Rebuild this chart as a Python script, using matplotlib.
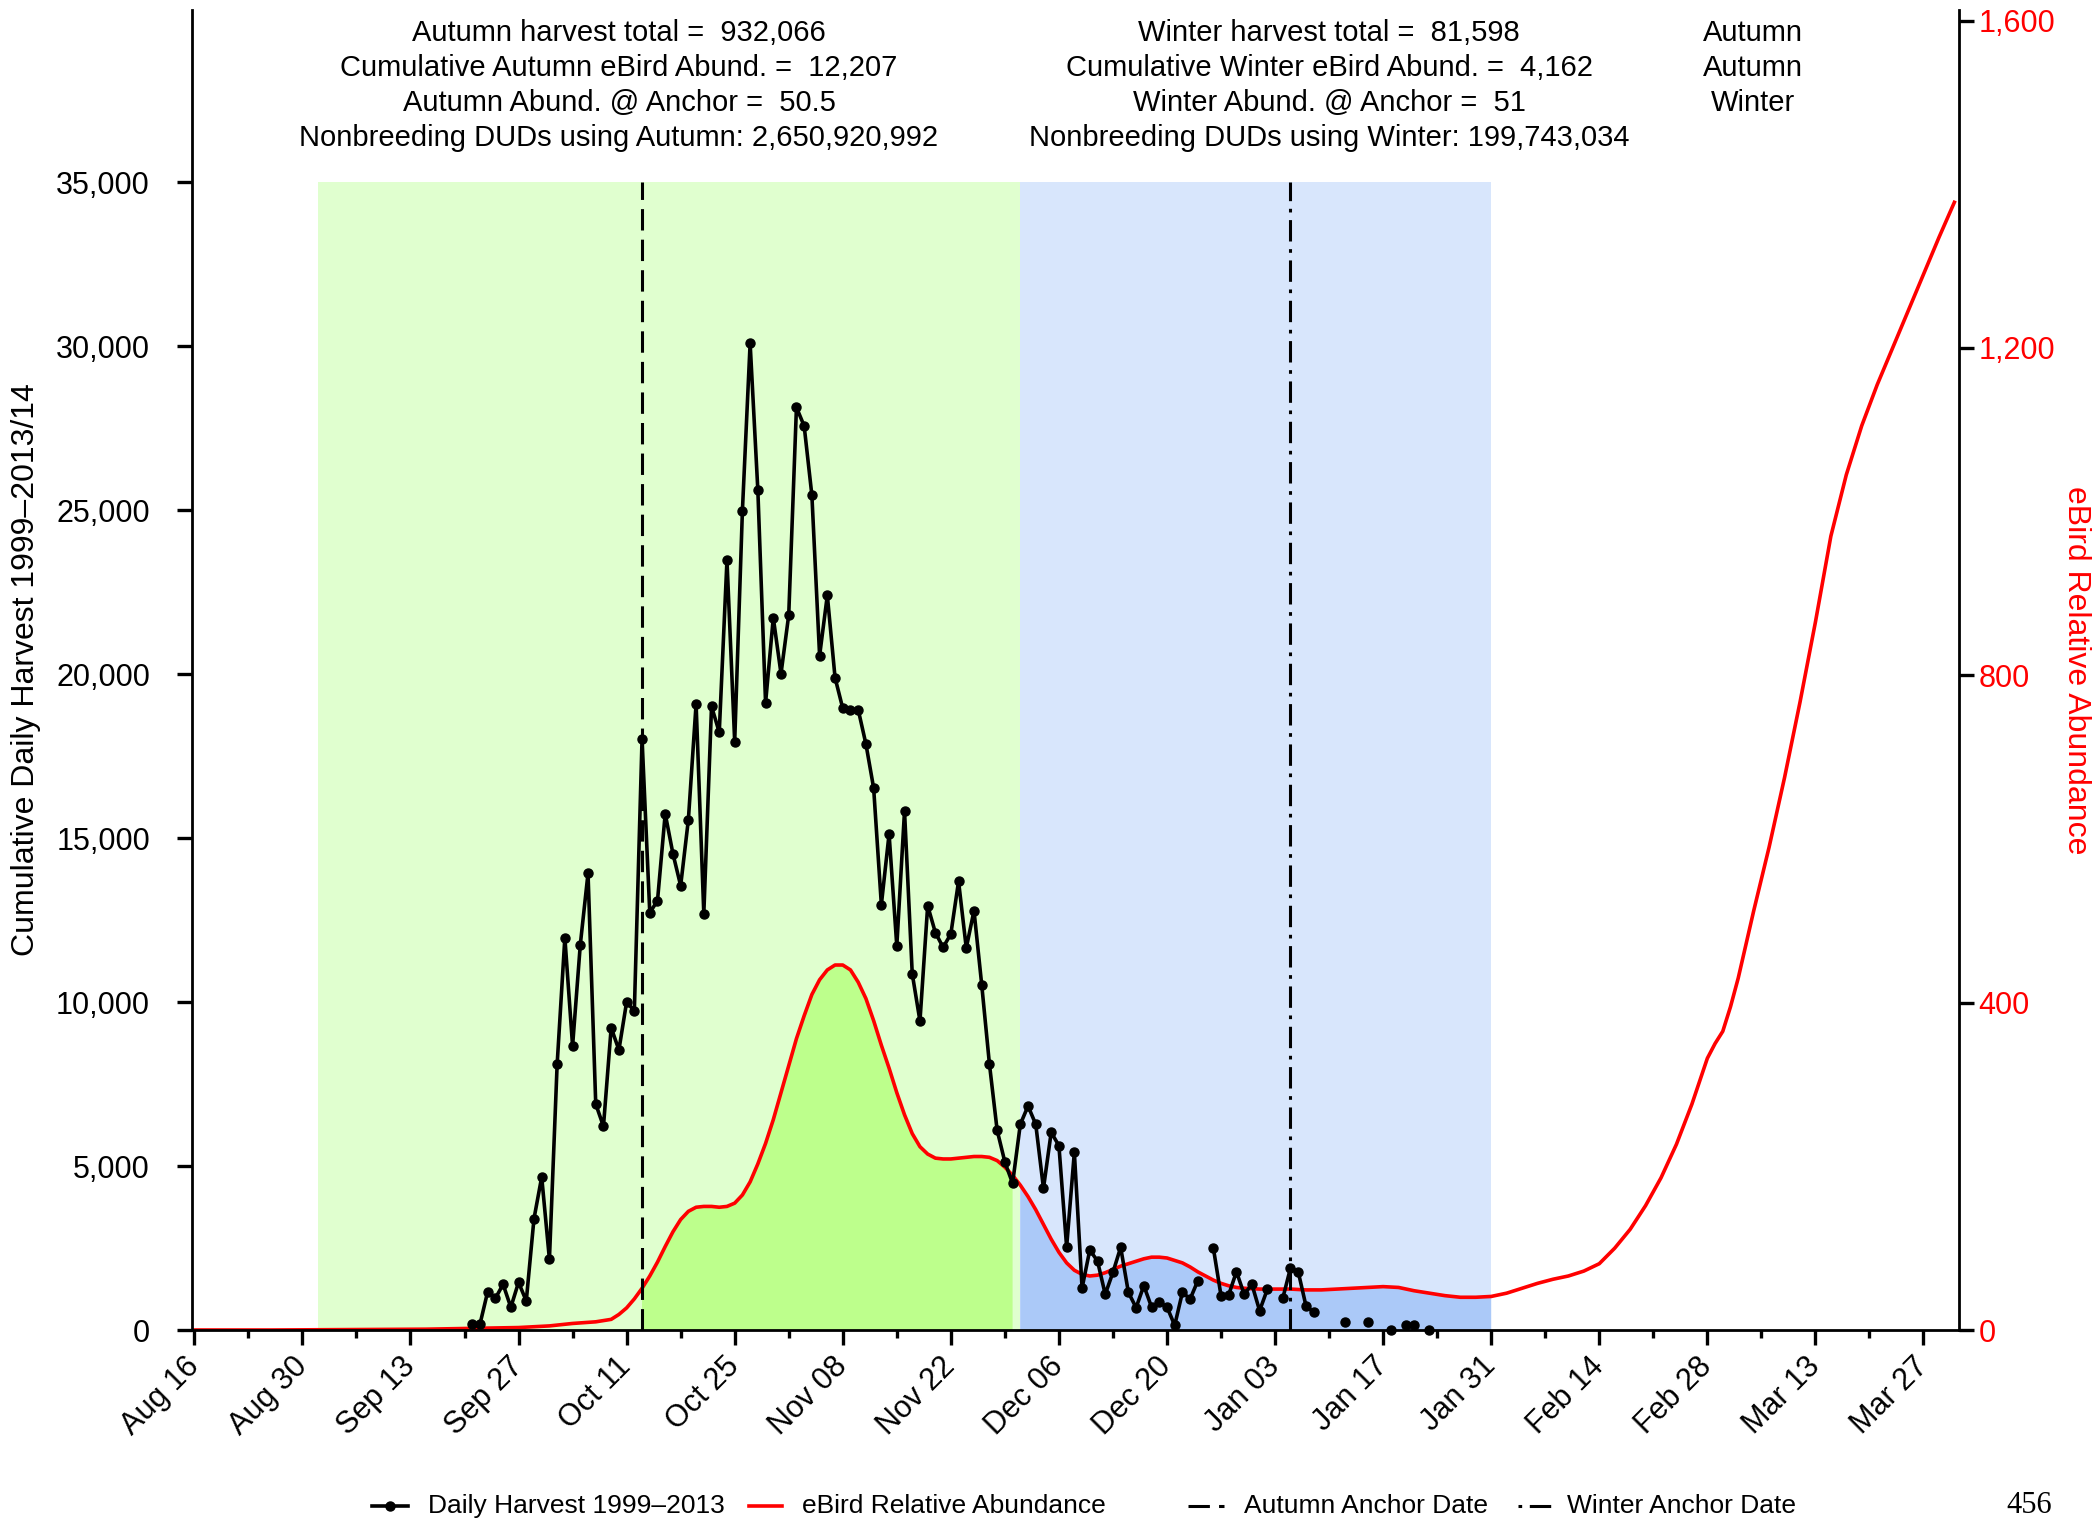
import numpy as np
import matplotlib
matplotlib.use('Agg')
import matplotlib.pyplot as plt
from matplotlib.lines import Line2D
from matplotlib.patches import Rectangle
from matplotlib.ticker import FuncFormatter, FixedLocator

plt.rcParams['font.family'] = ['Liberation Sans', 'DejaVu Sans']

# ---------------- data ----------------
# x axis: day index, 0 = Aug 16
tick_days = list(range(0, 225, 14))
tick_labels = ['Aug 16', 'Aug 30', 'Sep 13', 'Sep 27', 'Oct 11', 'Oct 25', 'Nov 08',
               'Nov 22', 'Dec 06', 'Dec 20', 'Jan 03', 'Jan 17', 'Jan 31', 'Feb 14',
               'Feb 28', 'Mar 13', 'Mar 27']

# Daily harvest (left axis), days 36..160; None = no data
harvest_start_day = 36
harvest_values = [
    174, 174, 1168, 966, 1393, 692, 1454, 884, 3393, 4665, 2155,            # 36-46
    8101, 11961, 8659, 11748, 13923, 6890, 6210, 9217, 8537, 10000, 9726,    # 47-57
    18018, 12723, 13088, 15741, 14521, 13546, 15558, 19085, 12692, 19015, 18222,  # 58-68
    23466, 17936, 24979, 30082, 25601, 19116, 21717, 20009, 21799, 28131, 27561,  # 69-79
    25448, 20558, 22399, 19888, 18954, 18913, 18913, 17866, 16524, 12967, 15122,  # 80-90
    11707, 15823, 10863, 9421, 12936, 12113, 11667, 12073, 13680, 11646, 12784,   # 91-101
    10527, 8110, 6088, 5122, 4472, 6271, 6829, 6271, 4320, 6027, 5620,            # 102-112
    2530, 5417, 1280, 2439, 2104, 1088, 1758, 2520, 1148, 681, 1352,              # 113-123
    701, 843, 701, 142, 1148, 945, 1504, None, 2510, 1047, 1077,                  # 124-134
    1778, 1088, 1393, 589, 1240, None, 966, 1890, 1778, 742, 539,                 # 135-145
    None, None, None, 234, None, None, 254, None, None, 0, None,                  # 146-156
    152, 152, None, 0,                                                            # 157-160
]

# eBird relative abundance (right axis)
abund_days = [0, 10, 20, 30, 36, 42, 46, 49, 52, 54, 55, 56, 57, 58, 59, 60, 61, 62, 63,
              64, 65, 66, 67, 68, 69, 70, 71, 72, 73, 74, 75, 76, 77, 78, 79, 80, 81, 82,
              83, 84, 85, 86, 87, 88, 89, 90, 91, 92, 93, 94, 95, 96, 97, 98, 99, 100,
              101, 102, 103, 104, 105, 106, 107, 108, 109, 110, 111, 112, 113, 114, 115,
              116, 117, 118, 119, 120, 121, 122, 123, 124, 125, 126, 127, 128, 129, 130,
              131, 132, 133, 134, 135, 136, 138, 140, 142, 144, 146, 148, 150, 152, 154,
              156, 158, 160, 162, 164, 166, 168, 170, 172, 174, 176, 178, 180, 182, 184,
              186, 188, 190, 192, 194, 196, 197, 198, 199, 200, 202, 204, 206, 208, 210,
              212, 214, 216, 218, 220, 222, 224, 226, 228]
abund_values = [0, 0, 0.5, 1, 2, 3, 5, 8, 10, 13, 19, 27, 38, 51, 66, 83, 102, 120, 135,
                145, 150, 151, 151, 150, 151, 155, 165, 181, 203, 228, 257, 290, 323, 356,
                384, 410, 428, 440, 446, 446, 440, 425, 405, 378, 348, 320, 290, 263, 240,
                224, 215, 210, 209, 209, 210, 211, 212, 212, 211, 207, 199, 189, 177, 163,
                147, 129, 111, 95, 82, 73, 68, 66, 67, 70, 74, 78, 81, 84, 87, 89, 89, 88,
                85, 82, 77, 71, 66, 61, 57, 54, 52, 51, 50, 50, 50, 49, 49, 50, 51, 52, 53,
                52, 48, 45, 42, 40, 40, 41, 45, 51, 57, 62, 66, 72, 81, 100, 123, 152, 186,
                227, 276, 332, 350, 365, 395, 430, 512, 590, 675, 767, 865, 970, 1045, 1105,
                1155, 1200, 1245, 1290, 1335, 1378]

autumn_period = (16, 107)
winter_period = (107, 168)
autumn_anchor = 58
winter_anchor = 142
autumn_fill = (58, 106)
winter_fill = (107, 168)
shade_top = 35000

left_ticks = list(range(0, 35001, 5000))
right_ticks = [0, 400, 800, 1200, 1600]

autumn_text = ["Autumn harvest total =  932,066",
               "Cumulative Autumn eBird Abund. =  12,207",
               "Autumn Abund. @ Anchor =  50.5",
               "Nonbreeding DUDs using Autumn: 2,650,920,992"]
winter_text = ["Winter harvest total =  81,598",
               "Cumulative Winter eBird Abund. =  4,162",
               "Winter Abund. @ Anchor =  51",
               "Nonbreeding DUDs using Winter: 199,743,034"]
period_text = ["Autumn", "Autumn", "Winter"]

# ---------------- figure ----------------
W, H = 2097, 1522
fig = plt.figure(figsize=(W / 100, H / 100), dpi=100)
L, R, B, T = 191.7, 1959.0, 1330.0, 10.0
ax1 = fig.add_axes([L / W, 1 - B / H, (R - L) / W, (B - T) / H])
ax2 = ax1.twinx()
ax1.set_zorder(3)
ax1.patch.set_visible(False)
ax2.set_zorder(1)

ax1.set_xlim(-0.34, 228.6)
ax1.set_ylim(0, 40244)
ax2.set_ylim(0, 1613)

LGREEN, DGREEN = '#E0FFCF', '#BDFF8C'
LBLUE, DBLUE = '#D8E6FC', '#ABC9F8'
RED = '#FF0000'
LW = 2.6
MS = 6.5

# background shading (in harvest units)
ax2.add_patch(Rectangle((autumn_period[0], 0), autumn_period[1] - autumn_period[0], shade_top,
                        transform=ax1.transData, facecolor=LGREEN, edgecolor='none', zorder=0))
ax2.add_patch(Rectangle((winter_period[0], 0), winter_period[1] - winter_period[0], shade_top,
                        transform=ax1.transData, facecolor=LBLUE, edgecolor='none', zorder=0))

ad = np.array(abund_days, dtype=float)
av = np.array(abund_values, dtype=float)
m = (ad >= autumn_fill[0]) & (ad <= autumn_fill[1])
ax2.fill_between(ad[m], 0, av[m], facecolor=DGREEN, edgecolor='none', zorder=1)
m = (ad >= winter_fill[0]) & (ad <= winter_fill[1])
ax2.fill_between(ad[m], 0, av[m], facecolor=DBLUE, edgecolor='none', zorder=1)
ax2.plot(ad, av, color=RED, lw=LW, zorder=3, solid_joinstyle='round')

# anchor lines
ax1.plot([autumn_anchor, autumn_anchor], [0, shade_top], color='black', lw=2.2,
         linestyle=(0, (7, 3)), zorder=2)
ax1.plot([winter_anchor, winter_anchor], [0, shade_top], color='black', lw=2.2,
         linestyle=(0, (7, 2.5, 1.2, 2.5)), zorder=2)

# harvest series
hv = np.array([np.nan if v is None else v for v in harvest_values], dtype=float)
hd = np.arange(harvest_start_day, harvest_start_day + len(hv))
ax1.plot(hd, hv, color='black', lw=LW, marker='o', markersize=MS, zorder=4,
         clip_on=False)

# spines
for s in ['top', 'right']:
    ax1.spines[s].set_visible(False)
for s in ['top', 'left', 'bottom']:
    ax2.spines[s].set_visible(False)
for s in ['left', 'bottom']:
    ax1.spines[s].set_linewidth(2.0)
ax2.spines['right'].set_linewidth(2.0)

# x ticks
ax1.xaxis.set_major_locator(FixedLocator(tick_days))
ax1.xaxis.set_minor_locator(FixedLocator([d + 7 for d in tick_days[:-1]]))
ax1.set_xticklabels(tick_labels, rotation=45, ha='right', va='center',
                    rotation_mode='anchor', fontsize=22)
ax1.tick_params(axis='x', which='major', direction='out', length=11, width=2.4, pad=12)
ax1.tick_params(axis='x', which='minor', direction='out', length=5.5, width=2.4)

# left y ticks
ax1.yaxis.set_major_locator(FixedLocator(left_ticks))
ax1.yaxis.set_major_formatter(FuncFormatter(lambda v, p: f"{int(v):,}"))
ax1.tick_params(axis='y', direction='out', length=11, width=2.4, pad=19, labelsize=22)

# right y ticks
ax2.yaxis.set_major_locator(FixedLocator(right_ticks))
ax2.yaxis.set_major_formatter(FuncFormatter(lambda v, p: f"{int(v):,}"))
ax2.tick_params(axis='y', direction='out', length=11, width=2.4, pad=3, labelsize=22,
                labelcolor=RED)

ax1.set_ylabel("Cumulative Daily Harvest 1999\u20132013/14", fontsize=23)
ax1.yaxis.set_label_coords((41 - L) / (R - L), 0.5)
ax2.set_ylabel("eBird Relative Abundance", fontsize=23, color=RED, rotation=270,
               va='center')
ax2.yaxis.set_label_coords((2076 - L) / (R - L), 0.5)

# top annotation blocks
line_y = [33.4, 68.2, 103.0, 137.7]
for i, s in enumerate(autumn_text):
    fig.text(619 / W, 1 - line_y[i] / H, s, ha='center', va='center', fontsize=21)
for i, s in enumerate(winter_text):
    fig.text(1329 / W, 1 - line_y[i] / H, s, ha='center', va='center', fontsize=21)
for i, s in enumerate(period_text):
    fig.text(1753 / W, 1 - line_y[i] / H, s, ha='center', va='center', fontsize=21)

# legend (manual, bottom)
ly = 1 - 1506 / H
def fx(px):
    return px / W
fig.add_artist(Line2D([fx(372), fx(408)], [ly, ly], color='black', lw=LW,
                      transform=fig.transFigure))
fig.add_artist(Line2D([fx(390)], [ly], color='black', marker='o', markersize=MS,
                      transform=fig.transFigure))
fig.text(fx(428), ly, "Daily Harvest 1999\u20132013", ha='left', va='center', fontsize=19)
fig.add_artist(Line2D([fx(749), fx(782)], [ly, ly], color=RED, lw=LW,
                      transform=fig.transFigure))
fig.text(fx(802), ly, "eBird Relative Abundance", ha='left', va='center', fontsize=19)
fig.add_artist(Line2D([fx(1188), fx(1224)], [ly, ly], color='black', lw=2.2,
                      linestyle=(0, (7, 3)), transform=fig.transFigure))
fig.text(fx(1244), ly, "Autumn Anchor Date", ha='left', va='center', fontsize=19)
fig.add_artist(Line2D([fx(1518), fx(1551)], [ly, ly], color='black', lw=2.2,
                      linestyle=(0, (1.2, 2.5, 7, 2.5)), transform=fig.transFigure))
fig.text(fx(1567), ly, "Winter Anchor Date", ha='left', va='center', fontsize=19)

fig.text(2029 / W, 1 - 1520 / H, "456", ha='center', va='bottom', fontsize=22,
         family=['Liberation Serif', 'DejaVu Serif'])

fig.savefig('out.png', dpi=100, facecolor='white')
